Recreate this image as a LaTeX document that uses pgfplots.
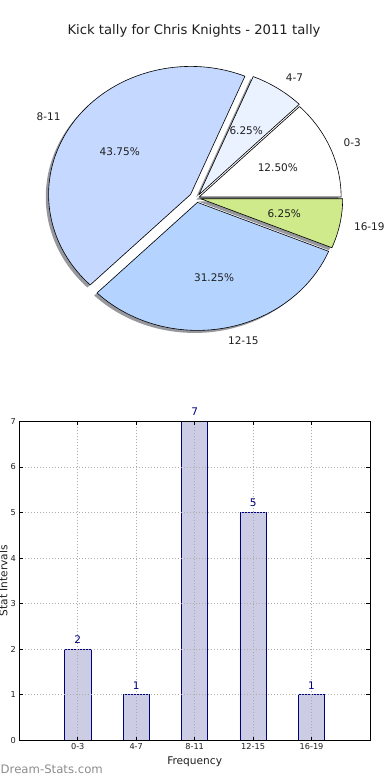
\documentclass[border=0pt]{standalone}
\usepackage{pgfplots}
\pgfplotsset{compat=1.18}
\usepackage{fontspec}
\setmainfont{DejaVu Sans}
\definecolor{pieA}{RGB}{255,255,255}
\definecolor{pieB}{RGB}{234,241,255}
\definecolor{pieC}{RGB}{197,216,255}
\definecolor{pieD}{RGB}{180,212,255}
\definecolor{pieE}{RGB}{206,234,138}
\definecolor{shadowc}{RGB}{150,152,158}
\definecolor{barfill}{RGB}{204,204,229}
\definecolor{navy}{RGB}{0,0,128}
\definecolor{wm}{RGB}{140,140,140}
\newcommand\pctfont{\fontsize{10.5}{12}\selectfont}
\pgfkeys{/pgf/number format/assume math mode=true}
\begin{document}
\begin{tikzpicture}
\useasboundingbox (0,0) rectangle (390pt,780pt);
\node[anchor=base, inner sep=0pt, font=\fontsize{13.2}{15}\selectfont, text=black!88] at (194pt,745.7pt) {Kick tally for Chris Knights - 2011 tally};

% ---------------- pie ----------------
\begin{axis}[at={(196.5pt,582pt)}, anchor=center, x=142pt, y=128pt,
  xmin=-1.5, xmax=1.5, ymin=-1.5, ymax=1.5, hide axis, clip=false]
% data: value / explode / colour / label
\def\piedata{2/0.02/pieA/0-3, 1/0.03/pieB/4-7, 7/0.05/pieC/8-11, 5/0.035/pieD/12-15, 1/0.03/pieE/16-19}
\gdef\vtot{0}
\foreach \v/\e/\col/\lab in \piedata {\pgfmathsetmacro\t{\vtot+\v}\xdef\vtot{\t}}
% shadows
\gdef\cum{0}
\foreach \v/\e/\col/\lab in \piedata {%
  \pgfmathsetmacro\sa{\cum}%
  \pgfmathsetmacro\ea{\cum+360*\v/\vtot}%
  \xdef\cum{\ea}%
  \pgfmathsetmacro\ma{(\sa+\ea)/2}%
  \pgfmathsetmacro\ox{\e*cos(\ma)-0.02}%
  \pgfmathsetmacro\oy{\e*sin(\ma)-0.02}%
  \pgfmathsetmacro\px{\ox+cos(\sa)}%
  \pgfmathsetmacro\py{\oy+sin(\sa)}%
  \edef\tmp{\noexpand\fill[shadowc] (axis cs:\ox,\oy) -- (axis cs:\px,\py) arc[start angle=\sa, end angle=\ea, x radius=142pt, y radius=128pt] -- cycle;}%
  \tmp
}
% wedges and labels
\gdef\cum{0}
\foreach \v/\e/\col/\lab in \piedata {%
  \pgfmathsetmacro\sa{\cum}%
  \pgfmathsetmacro\ea{\cum+360*\v/\vtot}%
  \xdef\cum{\ea}%
  \pgfmathsetmacro\ma{(\sa+\ea)/2}%
  \pgfmathsetmacro\ox{\e*cos(\ma)}%
  \pgfmathsetmacro\oy{\e*sin(\ma)}%
  \pgfmathsetmacro\px{\ox+cos(\sa)}%
  \pgfmathsetmacro\py{\oy+sin(\sa)}%
  \pgfmathsetmacro\lx{\ox+0.6*cos(\ma)}%
  \pgfmathsetmacro\ly{\oy+0.6*sin(\ma)}%
  \pgfmathsetmacro\qx{\ox+1.1*cos(\ma)}%
  \pgfmathsetmacro\qy{\oy+1.1*sin(\ma)}%
  \pgfmathsetmacro\pct{100*\v/\vtot}%
  \pgfmathtruncatemacro\isr{cos(\ma)>0}%
  \ifnum\isr=1 \def\anc{west}\else\def\anc{east}\fi
  \edef\tmp{\noexpand\filldraw[fill=\col, draw=black, line width=0.6pt, line join=round] (axis cs:\ox,\oy) -- (axis cs:\px,\py) arc[start angle=\sa, end angle=\ea, x radius=142pt, y radius=128pt] -- cycle;
    \noexpand\node[font=\noexpand\pctfont, text=black!88] at (axis cs:\lx,\ly) {\noexpand\pgfmathprintnumber[fixed,fixed zerofill,precision=2,assume math mode=true]{\pct}\noexpand\%};
    \noexpand\node[font=\noexpand\pctfont, text=black!88, anchor=\anc, inner sep=0pt] at (axis cs:\qx,\qy) {\lab};}%
  \tmp
}
\end{axis}

% ---------------- bars ----------------
\begin{axis}[at={(19.3pt,39.7pt)}, anchor=south west, scale only axis,
  width=350.7pt, height=319pt,
  xmin=-1, xmax=5, ymin=0, ymax=7,
  xtick={0,1,2,3,4}, xticklabels={0-3,4-7,8-11,12-15,16-19},
  ytick={0,1,2,3,4,5,6,7},
  axis on top, clip=false,
  grid=major, major grid style={gray!65, dash pattern=on 1pt off 2pt, line width=0.7pt},
  tick align=inside, major tick length=3.5pt,
  tick style={black, line width=0.6pt},
  axis line style={line width=0.8pt},
  ticklabel style={font=\fontsize{8.2}{9}\selectfont, text=black!88},
  xlabel={Frequency}, ylabel={Stat Intervals},
  label style={font=\fontsize{10.6}{12}\selectfont, text=black!88},
  xlabel style={at={(axis description cs:0.5,0)}, anchor=base, yshift=-24pt},
  ylabel style={at={(axis description cs:-0.0342,0.5)}, anchor=base},
  /pgf/number format/assume math mode=true,
]
\addplot[ybar, bar width=0.45, fill=barfill, draw=navy, line width=0.8pt,
  nodes near coords,
  every node near coord/.append style={inner sep=0pt, yshift=5pt, text=navy, font=\fontsize{10.5}{12}\selectfont}]
  coordinates {(0,2) (1,1) (2,7) (3,5) (4,1)};
\end{axis}

\node[anchor=base west, inner sep=0pt, font=\fontsize{11.7}{13}\selectfont, text=wm] at (0.5pt,6.7pt) {Dream-Stats.com};
\end{tikzpicture}
\end{document}
